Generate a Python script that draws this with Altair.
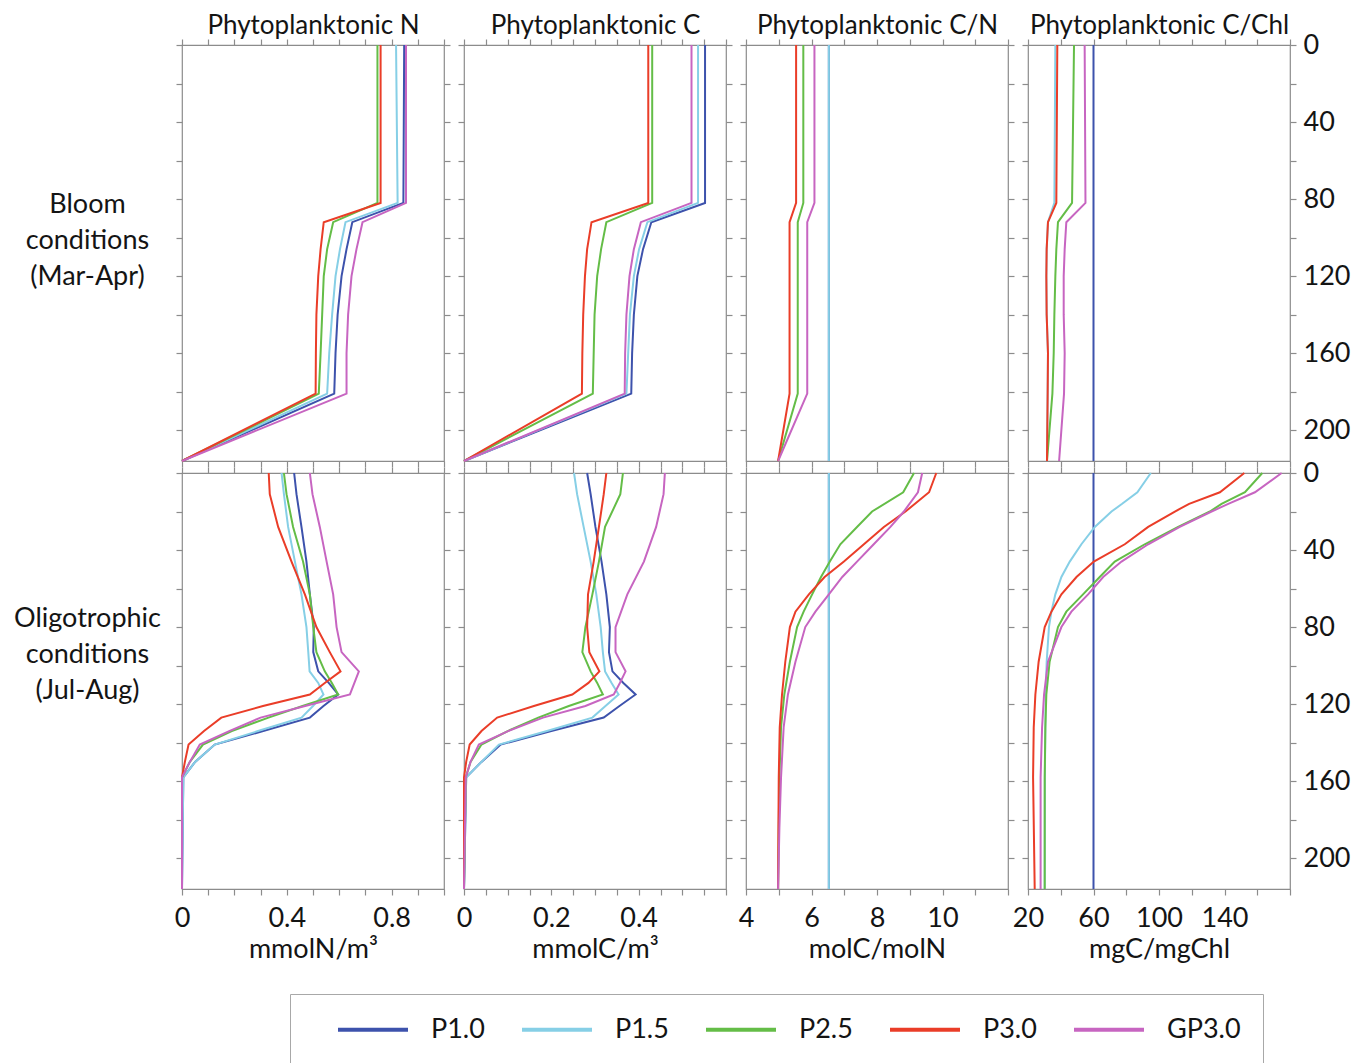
import json
import altair as alt
import pandas as pd

FONT = "Lato"
TXT = "#141414"
FRAME = "#8c8c8c"
FS = 27

SERIES = ["P1.0", "P1.5", "P2.5", "P3.0", "GP3.0"]
COLORS = ["#3d52ac", "#86cfe6", "#64bd47", "#ea3d28", "#c765c1"]

PANEL_TITLES = ["Phytoplanktonic N", "Phytoplanktonic C", "Phytoplanktonic C/N", "Phytoplanktonic C/Chl"]
UNITS = ["mmolN/m³", "mmolC/m³", "molC/molN", "mgC/mgChl"]
ROW_TITLES = [["Bloom", "conditions", "(Mar-Apr)"], ["Oligotrophic", "conditions", "(Jul-Aug)"]]

DEPTH_DOMAIN = [0, 216]
DEPTH_TICKS = [0, 20, 40, 60, 80, 100, 120, 140, 160, 180, 200]
DEPTH_LABELS = [0, 40, 80, 120, 160, 200]

N_DOMAIN = [0, 1.0]
N_TICKS = [0, 0.1, 0.2, 0.3, 0.4, 0.5, 0.6, 0.7, 0.8, 0.9, 1.0]
N_LABELS = [0, 0.4, 0.8]
C_DOMAIN = [0, 0.6]
C_TICKS = [0, 0.05, 0.1, 0.15, 0.2, 0.25, 0.3, 0.35, 0.4, 0.45, 0.5, 0.55, 0.6]
C_LABELS = [0, 0.2, 0.4]
CN_DOMAIN = [4, 12]
CN_TICKS = [4, 5, 6, 7, 8, 9, 10, 11, 12]
CN_LABELS = [4, 6, 8, 10]
CCHL_DOMAIN = [20, 180]
CCHL_TICKS = [20, 40, 60, 80, 100, 120, 140, 160, 180]
CCHL_LABELS = [20, 60, 100, 140]

# ---------------- Bloom conditions (Mar-Apr) ----------------
BLOOM_DEPTH = [0, 82, 92, 106, 120, 140, 160, 181, 216]
BLOOM_N = {
    "P1.0": [0.848, 0.845, 0.650, 0.628, 0.609, 0.594, 0.586, 0.581, 0.0],
    "P1.5": [0.817, 0.823, 0.624, 0.603, 0.586, 0.573, 0.562, 0.554, 0.0],
    "P2.5": [0.746, 0.746, 0.577, 0.554, 0.541, 0.535, 0.529, 0.522, 0.0],
    "P3.0": [0.758, 0.758, 0.541, 0.529, 0.520, 0.513, 0.511, 0.510, 0.0],
    "GP3.0": [0.855, 0.855, 0.689, 0.666, 0.647, 0.634, 0.628, 0.628, 0.0],
}
BLOOM_C = {
    "P1.0": [0.552, 0.552, 0.429, 0.410, 0.397, 0.389, 0.385, 0.383, 0.0],
    "P1.5": [0.536, 0.536, 0.420, 0.401, 0.389, 0.380, 0.376, 0.372, 0.0],
    "P2.5": [0.431, 0.431, 0.326, 0.314, 0.305, 0.299, 0.297, 0.295, 0.0],
    "P3.0": [0.422, 0.422, 0.292, 0.282, 0.277, 0.273, 0.271, 0.270, 0.0],
    "GP3.0": [0.521, 0.521, 0.405, 0.389, 0.379, 0.372, 0.369, 0.368, 0.0],
}
BLOOM_CN = {
    "P1.0": [6.53, 6.53, 6.53, 6.53, 6.53, 6.53, 6.53, 6.53, 6.53],
    "P1.5": [6.53, 6.53, 6.53, 6.53, 6.53, 6.53, 6.53, 6.53, 6.53],
    "P2.5": [5.75, 5.75, 5.58, 5.58, 5.58, 5.58, 5.58, 5.58, 4.98],
    "P3.0": [5.53, 5.53, 5.33, 5.33, 5.33, 5.33, 5.33, 5.33, 4.98],
    "GP3.0": [6.09, 6.09, 5.87, 5.87, 5.87, 5.87, 5.87, 5.87, 4.98],
}
BLOOM_CCHL = {
    "P1.0": [60, 60, 60, 60, 60, 60, 60, 60, 60],
    "P1.5": [36.7, 36.1, 32.2, 31.4, 31.2, 31.4, 32.2, 32.0, 31.6],
    "P2.5": [48.1, 46.9, 38.3, 37.3, 36.7, 36.1, 35.7, 34.9, 31.6],
    "P3.0": [37.9, 37.3, 32.2, 31.4, 31.2, 31.4, 32.2, 32.0, 31.6],
    "GP3.0": [54.6, 55.1, 43.4, 42.4, 41.8, 41.8, 42.4, 42.0, 39.0],
}

# ---------------- Oligotrophic conditions (Jul-Aug) ----------------
OLIGO_DEPTH = [0, 11, 28, 46, 63, 80, 93, 103, 109, 115, 121, 127, 134, 141, 150, 158, 216]
OLIGO_N = {
    "P1.0": [0.428, 0.437, 0.456, 0.475, 0.488, 0.503, 0.501, 0.520, 0.560, 0.596, 0.540, 0.488, 0.310, 0.125, 0.050, 0.005, 0.0],
    "P1.5": [0.380, 0.389, 0.405, 0.431, 0.456, 0.475, 0.482, 0.487, 0.520, 0.540, 0.500, 0.456, 0.290, 0.125, 0.050, 0.005, 0.0],
    "P2.5": [0.389, 0.399, 0.424, 0.462, 0.488, 0.501, 0.513, 0.545, 0.572, 0.596, 0.460, 0.330, 0.190, 0.080, 0.030, 0.0, 0.0],
    "P3.0": [0.331, 0.335, 0.367, 0.418, 0.469, 0.513, 0.564, 0.605, 0.545, 0.488, 0.309, 0.150, 0.084, 0.025, 0.011, 0.0, 0.0],
    "GP3.0": [0.488, 0.498, 0.526, 0.552, 0.577, 0.590, 0.609, 0.675, 0.658, 0.641, 0.470, 0.300, 0.180, 0.068, 0.030, 0.0, 0.0],
}
OLIGO_C = {
    "P1.0": [0.282, 0.290, 0.301, 0.315, 0.326, 0.334, 0.332, 0.340, 0.365, 0.393, 0.356, 0.320, 0.200, 0.084, 0.040, 0.005, 0.0],
    "P1.5": [0.252, 0.259, 0.274, 0.290, 0.303, 0.313, 0.318, 0.323, 0.338, 0.354, 0.324, 0.294, 0.190, 0.080, 0.040, 0.005, 0.0],
    "P2.5": [0.364, 0.358, 0.323, 0.309, 0.294, 0.278, 0.271, 0.290, 0.305, 0.318, 0.240, 0.170, 0.100, 0.040, 0.015, 0.004, 0.0],
    "P3.0": [0.326, 0.320, 0.309, 0.297, 0.284, 0.282, 0.287, 0.310, 0.285, 0.248, 0.160, 0.076, 0.040, 0.013, 0.005, 0.0, 0.0],
    "GP3.0": [0.460, 0.457, 0.440, 0.412, 0.374, 0.347, 0.347, 0.370, 0.357, 0.343, 0.278, 0.181, 0.101, 0.034, 0.015, 0.004, 0.0],
}
OLIGO_CN_DEPTH = [0, 10, 20, 28, 37, 46, 54, 63, 72, 80, 98, 115, 132, 158, 184, 216]
OLIGO_CN = {
    "P1.0": [6.53, 6.53, 6.53, 6.53, 6.53, 6.53, 6.53, 6.53, 6.53, 6.53, 6.53, 6.53, 6.53, 6.53, 6.53, 6.53],
    "P1.5": [6.53, 6.53, 6.53, 6.53, 6.53, 6.53, 6.53, 6.53, 6.53, 6.53, 6.53, 6.53, 6.53, 6.53, 6.53, 6.53],
    "P2.5": [9.13, 8.80, 7.85, 7.39, 6.88, 6.56, 6.29, 6.02, 5.76, 5.56, 5.34, 5.17, 5.07, 5.02, 5.00, 4.98],
    "P3.0": [9.81, 9.59, 8.87, 8.21, 7.60, 6.99, 6.40, 5.92, 5.51, 5.34, 5.20, 5.10, 5.03, 5.00, 4.99, 4.98],
    "GP3.0": [9.38, 9.25, 8.82, 8.41, 7.90, 7.39, 6.94, 6.53, 6.12, 5.81, 5.51, 5.28, 5.15, 5.07, 5.02, 4.98],
}
OLIGO_CCHL_DEPTH = [0, 10, 16, 20, 28, 37, 46, 54, 63, 72, 80, 98, 115, 132, 158, 216]
OLIGO_CCHL = {
    "P1.0": [60, 60, 60, 60, 60, 60, 60, 60, 60, 60, 60, 60, 60, 60, 60, 60],
    "P1.5": [95.0, 86.8, 77.5, 71.0, 60.8, 52.6, 45.5, 40.4, 36.7, 34.3, 32.8, 31.4, 30.8, 30.6, 30.3, 30.2],
    "P2.5": [163.1, 152.5, 138.2, 131.1, 111.7, 91.3, 73.0, 63.8, 53.6, 43.4, 38.3, 33.2, 31.2, 30.6, 30.2, 30.2],
    "P3.0": [152.1, 137.2, 118.4, 109.7, 93.4, 79.1, 60.2, 49.6, 40.4, 34.3, 30.2, 26.5, 24.5, 23.5, 23.1, 24.1],
    "GP3.0": [174.9, 158.6, 142.3, 132.1, 112.7, 93.4, 77.1, 65.9, 56.7, 46.5, 40.4, 32.2, 29.8, 28.6, 27.7, 27.7],
}

X_SPECS = [
    (N_DOMAIN, N_TICKS, N_LABELS),
    (C_DOMAIN, C_TICKS, C_LABELS),
    (CN_DOMAIN, CN_TICKS, CN_LABELS),
    (CCHL_DOMAIN, CCHL_TICKS, CCHL_LABELS),
]
PANEL_DATA = [
    [(BLOOM_DEPTH, BLOOM_N), (BLOOM_DEPTH, BLOOM_C), (BLOOM_DEPTH, BLOOM_CN), (BLOOM_DEPTH, BLOOM_CCHL)],
    [(OLIGO_DEPTH, OLIGO_N), (OLIGO_DEPTH, OLIGO_C), (OLIGO_CN_DEPTH, OLIGO_CN), (OLIGO_CCHL_DEPTH, OLIGO_CCHL)],
]

PANEL_W = 262
PANEL_H = 416
TICK = 6

# legend line symbol: a 70 px horizontal stroke drawn to the right of a 20 px nominal symbol box
LEGEND = alt.Legend(
    orient="none", legendX=108, legendY=949, direction="horizontal", title=None,
    symbolType="M1.25,0H8.25", symbolSize=400, symbolStrokeWidth=4,
    labelFont=FONT, labelFontSize=FS, labelColor=TXT, labelOffset=92,
    columnPadding=11, padding=22, strokeColor="#a8a8a8", fillColor="white",
)


def long_df(depths, values):
    rows = []
    for i, s in enumerate(SERIES):
        for d, v in zip(depths, values[s]):
            rows.append({"depth": d, "value": v, "series": s, "k": i})
    return pd.DataFrame(rows)


def label_expr(labels):
    return f"indexof({json.dumps(labels)}, datum.value) >= 0 ? '' + datum.value : ''"


COMMON = dict(
    grid=False, domain=False, tickColor=FRAME, tickWidth=1.2, tickSize=TICK,
    labelFont=FONT, labelFontSize=FS, labelColor=TXT, labelOverlap=False, labelFlush=False,
    titleFont=FONT, titleFontSize=FS, titleFontWeight="normal", titleColor=TXT,
)


def panel(row, col):
    depths, values = PANEL_DATA[row][col]
    dom, ticks, labels = X_SPECS[col]
    df = long_df(depths, values)
    xs = alt.Scale(domain=dom, nice=False, zero=False)
    ys = alt.Scale(domain=DEPTH_DOMAIN, reverse=True, nice=False, zero=False)

    if row == 1:
        bx = alt.Axis(orient="bottom", values=ticks, labelExpr=label_expr(labels),
                      labelPadding=10, title=UNITS[col], titlePadding=5, **COMMON)
        tx = alt.Axis(orient="top", values=ticks, labels=False, title=None, **COMMON)
    else:
        bx = alt.Axis(orient="bottom", values=ticks, labels=False, title=None, **COMMON)
        common_top = dict(COMMON)
        common_top["titleFontSize"] = 26
        tx = alt.Axis(orient="top", values=ticks, labels=False, title=PANEL_TITLES[col],
                      titlePadding=0, **common_top)

    if col == 0:
        ly = alt.Axis(orient="left", values=DEPTH_TICKS, labels=False, title=ROW_TITLES[row],
                      titleAngle=0, titleAlign="center", titleBaseline="middle", titleX=-95,
                      titleY=[159, 145][row], titleLineHeight=36, **COMMON)
    else:
        ly = alt.Axis(orient="left", values=DEPTH_TICKS, labels=False, title=None, **COMMON)
    if col == 3:
        ry = alt.Axis(orient="right", values=DEPTH_TICKS, labelExpr=label_expr(DEPTH_LABELS),
                      labelPadding=7, labelAlign="left", labelBaseline="middle", title=None, **COMMON)
    else:
        ry = alt.Axis(orient="right", values=DEPTH_TICKS, labels=False, title=None, **COMMON)

    lines = alt.Chart(df).mark_line(strokeWidth=2).encode(
        x=alt.X("value:Q", scale=xs, axis=bx),
        y=alt.Y("depth:Q", scale=ys, axis=ly),
        color=alt.Color("series:N", scale=alt.Scale(domain=SERIES, range=COLORS), legend=LEGEND),
        order=alt.Order("depth:Q"),
    )
    ghost = alt.Chart(df).mark_line(opacity=0).encode(
        x=alt.X("value:Q", scale=xs, axis=tx),
        y=alt.Y("depth:Q", scale=ys, axis=ry),
        detail="series:N",
        order=alt.Order("depth:Q"),
    )
    return alt.layer(lines, ghost).resolve_axis(x="independent", y="independent").properties(
        width=PANEL_W, height=PANEL_H)


panels = [panel(r, c) for r in range(2) for c in range(4)]

chart = alt.concat(*panels, columns=4, spacing={"row": 12, "column": 20}, bounds="flush").properties(
    padding={"left": 4, "top": 3, "right": 5, "bottom": 5}
).configure_view(stroke=FRAME, strokeWidth=1.2)

chart.save("out.html", embed_options={"renderer": "svg", "actions": False})
